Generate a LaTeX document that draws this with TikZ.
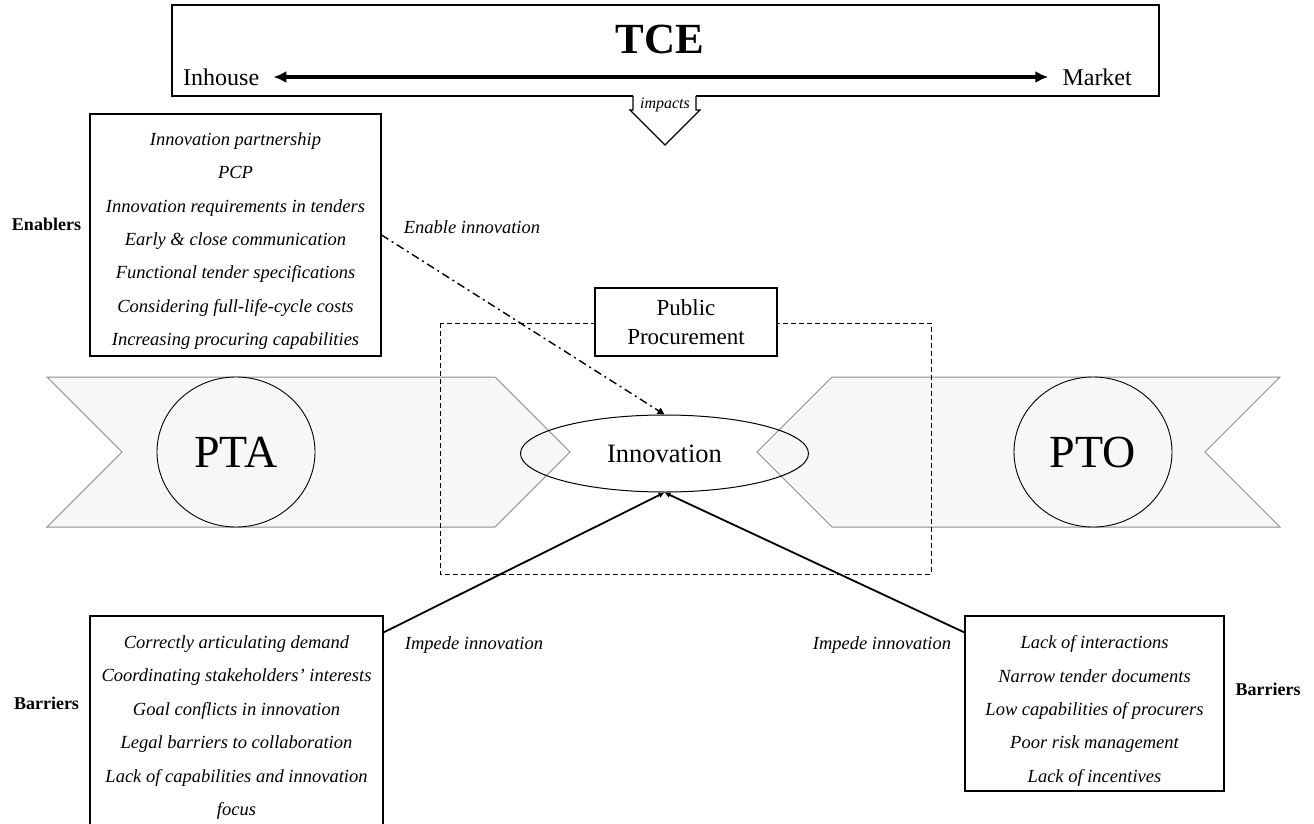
\documentclass[tikz,border=0pt]{standalone}
\usepackage{fontspec}
\setmainfont{Liberation Serif}
\usetikzlibrary{arrows.meta,shapes.geometric,calc}
\definecolor{ribbonfill}{HTML}{F7F7F7}
\definecolor{ribbonline}{HTML}{8C8C8C}
\begin{document}
\begin{tikzpicture}[x=1pt,y=-1pt,
  box/.style={draw=black,line width=1.1pt,fill=white,inner sep=0pt},
  itl/.style={font=\fontsize{18.5}{33.4}\selectfont\itshape,align=center,inner sep=0pt},
  lbl/.style={font=\fontsize{18.5}{22}\selectfont\itshape},
  side/.style={font=\fontsize{18}{22}\selectfont\bfseries},
  ribbon/.style={fill=ribbonfill,draw=ribbonline,line width=1pt},
  circ/.style={ellipse,draw=black,line width=0.9pt,fill=ribbonfill,minimum width=158pt,minimum height=150pt,inner sep=0pt,font=\fontsize{46}{50}\selectfont},
  conn/.style={line width=1.8pt,-{Latex[length=6pt,width=6pt]}},
]
\useasboundingbox (0,0) rectangle (1314,824);

% TCE box
\node[box,minimum width=987pt,minimum height=91pt] (tce) at (665.5,50.5) {};
\node[font=\fontsize{43}{46}\selectfont\bfseries] (tcet) at (660,39) {TCE};
\node[font=\fontsize{24}{28}\selectfont,anchor=west,inner sep=2pt] (inh) at (181,77) {Inhouse};
\node[font=\fontsize{24}{28}\selectfont,anchor=east,inner sep=2pt] (mkt) at (1134,77) {Market};
\draw[line width=3.2pt,{Latex[length=13pt,width=12pt]}-{Latex[length=13pt,width=12pt]}] ([xshift=12pt]inh.east) -- ([xshift=-12pt]mkt.west);

% impacts arrow
\fill[white] (633,94) -- (633,110) -- (630,110) -- (665,145) -- (700,110) -- (696,110) -- (696,94) -- cycle;
\draw[line width=1.1pt,line join=miter] (633,96) -- (633,110) -- (630,110) -- (665,145) -- (700,110) -- (696,110) -- (696,96);
\node[font=\fontsize{16}{18}\selectfont\itshape,inner sep=0pt] (imp) at (665,105) {impacts};

% ribbons
\filldraw[ribbon] (47,377) -- (495,377) -- (570,452) -- (495,527) -- (47,527) -- (122,452) -- cycle;
\filldraw[ribbon] (832,377) -- (1280,377) -- (1205,452) -- (1280,527) -- (832,527) -- (757,452) -- cycle;
\node[circ] (pta) at (236,452) {PTA};
\node[circ] (pto) at (1093,452) {PTO};

% public procurement
\draw[line width=1pt,dash pattern=on 5pt off 3pt] (440,323) rectangle (931,574);
\node[box,minimum width=182pt,minimum height=68pt,align=center,font=\fontsize{23}{29}\selectfont] (pp) at (686,322) {Public\\Procurement};

% innovation
\node[ellipse,draw=black,line width=1pt,minimum width=288pt,minimum height=77pt,inner sep=0pt,font=\fontsize{26.5}{30}\selectfont] (innov) at (664.5,453.5) {Innovation};

% enablers
\node[box,minimum width=291pt,minimum height=242pt] (enab) at (235.5,235) {};
\node[itl] (enabt) at (235.5,241) {Innovation partnership\\PCP\\Innovation requirements in tenders\\Early \& close communication\\Functional tender specifications\\Considering full-life-cycle costs\\Increasing procuring capabilities};
\node[side] (enl) at (46.5,224) {Enablers};
\node[lbl] (enin) at (472,227) {Enable innovation};
\draw[line width=1.4pt,dash pattern=on 8pt off 4pt on 2pt off 4pt,-{Triangle[length=7pt,width=7pt]}] (enab.east) -- (innov.north);

% barriers left
\node[box,minimum width=293pt,minimum height=216pt] (barL) at (236.5,724) {};
\node[itl] (barLt) at (236.5,727.5) {Correctly articulating demand\\Coordinating stakeholders’ interests\\Goal conflicts in innovation\\Legal barriers to collaboration\\Lack of capabilities and innovation\\focus};
\node[side] (bl) at (46.5,703) {Barriers};
\node[lbl] (imp1) at (474,645) {Impede innovation};

% barriers right
\node[box,minimum width=259pt,minimum height=175pt] (barR) at (1094.5,703.5) {};
\node[itl] (barRt) at (1094.5,711) {Lack of interactions\\Narrow tender documents\\Low capabilities of procurers\\Poor risk management\\Lack of incentives};
\node[side] (br) at (1268,689) {Barriers};
\node[lbl] (imp2) at (882,645) {Impede innovation};

\draw[conn] ($(barL.north east)+(0,17)$) -- (innov.south);
\draw[conn] ($(barR.north west)+(0,17)$) -- (innov.south);
\end{tikzpicture}
\end{document}
